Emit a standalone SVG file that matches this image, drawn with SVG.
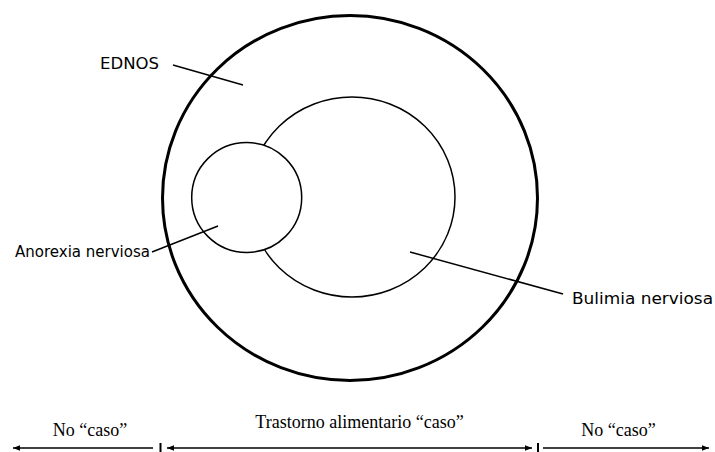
<svg xmlns="http://www.w3.org/2000/svg" width="715" height="452" viewBox="0 0 715 452">
<style>
.bg{fill:#fff}
.outer{fill:none;stroke:#000;stroke-width:3}
.inner{fill:#fff;stroke:#000;stroke-width:1.5}
.lead{stroke:#000;stroke-width:1.5;fill:none}
.arr{stroke:#000;stroke-width:1.4;fill:none}
.tick{stroke:#000;stroke-width:2}
.sans{font-family:"DejaVu Sans","Liberation Sans",sans-serif;font-size:15.5px;fill:#000}
.serif{font-family:"Liberation Serif","Times New Roman",serif;font-size:18px;fill:#000;text-anchor:middle}
</style>
<defs>
<marker id="ah" viewBox="0 0 10 10" refX="10" refY="5" markerWidth="8" markerHeight="7" markerUnits="userSpaceOnUse" orient="auto-start-reverse">
<path d="M0,1 L10,5 L0,9 Z" fill="#000"/>
</marker>
</defs>
<rect class="bg" x="0" y="0" width="715" height="452"/>
<g id="ednos">
<ellipse class="outer" cx="350" cy="198" rx="187.5" ry="182.5"/>
<text class="sans" x="100" y="69" textLength="59" lengthAdjust="spacingAndGlyphs">EDNOS</text>
</g>
<g id="bulimia">
<ellipse class="inner" cx="352" cy="197" rx="103" ry="100"/>
<text class="sans" x="572" y="304" textLength="141" lengthAdjust="spacingAndGlyphs">Bulimia nerviosa</text>
</g>
<g id="anorexia">
<circle class="inner" cx="246.7" cy="197.5" r="55"/>
<text class="sans" x="15" y="257" textLength="135" lengthAdjust="spacingAndGlyphs">Anorexia nerviosa</text>
</g>
<g id="no-caso-left">
<text class="serif" x="90" y="436">No “caso”</text>
</g>
<g id="caso">
<text class="serif" x="359.5" y="428">Trastorno alimentario “caso”</text>
</g>
<g id="no-caso-right">
<text class="serif" x="618.5" y="436">No “caso”</text>
</g>
<g id="connectors">
<line class="lead" x1="173" y1="65" x2="243" y2="85"/>
<line class="lead" x1="152" y1="252" x2="218" y2="226"/>
<line class="lead" x1="410" y1="252" x2="563" y2="294"/>
<line class="arr" x1="153" y1="448" x2="13" y2="448" marker-end="url(#ah)"/>
<line class="arr" x1="167" y1="448" x2="532" y2="448" marker-start="url(#ah)" marker-end="url(#ah)"/>
<line class="arr" x1="543" y1="448" x2="709" y2="448" marker-end="url(#ah)"/>
<line class="tick" x1="160.5" y1="443" x2="160.5" y2="452"/>
<line class="tick" x1="538" y1="443" x2="538" y2="452"/>
</g>
</svg>
